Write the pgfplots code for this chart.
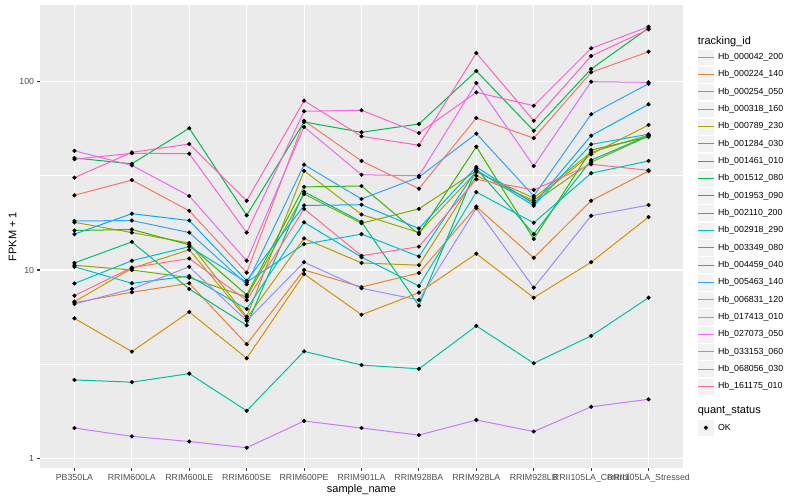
\documentclass[border=0pt]{standalone}
\usepackage{fontspec}
\setmainfont{Liberation Sans}
\usepackage{pgfplots}
\usepackage{pgfplotstable}
\pgfplotsset{compat=1.18}

\definecolor{c1}{HTML}{F8766D}
\definecolor{c2}{HTML}{EA8331}
\definecolor{c3}{HTML}{D89000}
\definecolor{c4}{HTML}{C09B00}
\definecolor{c5}{HTML}{A3A500}
\definecolor{c6}{HTML}{7CAE00}
\definecolor{c7}{HTML}{39B600}
\definecolor{c8}{HTML}{00BB4E}
\definecolor{c9}{HTML}{00BF7D}
\definecolor{c10}{HTML}{00C1A3}
\definecolor{c11}{HTML}{00BFC4}
\definecolor{c12}{HTML}{00BAE0}
\definecolor{c13}{HTML}{00B0F6}
\definecolor{c14}{HTML}{35A2FF}
\definecolor{c15}{HTML}{9590FF}
\definecolor{c16}{HTML}{C77CFF}
\definecolor{c17}{HTML}{E76BF3}
\definecolor{c18}{HTML}{FA62DB}
\definecolor{c19}{HTML}{FF62BC}
\definecolor{c20}{HTML}{FF6C91}
\definecolor{panelbg}{HTML}{EBEBEB}
\definecolor{keybg}{HTML}{F2F2F2}
\definecolor{gray20}{HTML}{333333}
\definecolor{gray30}{HTML}{4D4D4D}

\pgfplotsset{
  keyok/.style={legend image code/.code={%
      \fill[keybg,draw=white,line width=0.5pt] (0pt,-8.41pt) rectangle (17.3pt,8.41pt);
      \fill[black] (8.65pt,0pt) circle (1.9pt);
      \path (20.3pt,0pt);}},
}

% rows: samples 0..10, columns: tracking ids in legend order
\pgfplotstableread{
x s1 s2 s3 s4 s5 s6 s7 s8 s9 s10 s11 s12 s13 s14 s15 s16 s17 s18 s19 s20
0 24.9 6.71 5.54 6.79 17.9 10.6 16.2 39.3 10.9 2.61 10.4 8.48 15.5 18.2 6.60 1.45 42.9 38.7 30.9 7.31
1 30.0 7.62 3.69 10.2 15.8 10.0 16.4 36.6 14.1 2.54 8.50 11.2 19.9 18.3 7.93 1.31 35.9 41.6 42.1 10.3
2 20.6 8.50 5.99 12.8 13.9 9.10 13.6 56.5 7.93 2.82 9.29 13.3 18.3 15.8 10.4 1.23 24.7 41.4 46.6 11.5
3 9.68 4.04 3.40 5.54 5.65 7.19 7.37 19.5 5.09 1.79 6.21 8.61 8.77 8.40 5.38 1.14 11.2 15.8 23.3 6.91
4 61.9 10.0 9.52 14.7 33.6 25.3 27.6 61.0 26.0 3.70 17.9 13.7 22.0 36.2 11.0 1.58 57.4 69.5 79.1 21.1
5 37.9 8.12 5.79 10.9 19.7 17.7 27.9 53.8 18.0 3.13 11.7 15.5 22.2 23.8 8.00 1.45 32.0 70.4 51.2 11.9
6 27.0 9.64 7.58 10.6 15.8 21.1 15.5 59.5 6.47 2.99 8.23 11.8 16.6 31.1 6.93 1.33 31.6 53.3 45.9 13.3
7 64.0 21.7 12.2 31.6 33.1 33.6 45.1 113.7 34.5 5.05 25.9 33.9 35.2 52.9 21.3 1.60 98.2 87.6 141.6 30.3
8 50.1 11.6 7.13 23.4 24.1 22.8 14.6 54.8 15.5 3.20 17.8 21.9 22.4 24.7 8.06 1.39 35.6 74.4 61.9 26.6
9 111.9 23.3 11.0 41.1 42.1 37.3 43.3 116.5 38.3 4.47 32.6 46.4 51.6 67.0 19.4 1.88 99.8 150.0 136.6 36.4
10 143.9 33.5 19.1 58.8 52.0 51.4 50.8 192.2 51.6 7.13 37.9 52.5 75.7 97.3 22.1 2.06 99.0 195.3 189.2 33.8
}\fpkm

\begin{document}
\begin{tikzpicture}
\path[use as bounding box] (-40pt,-32pt) rectangle (760pt,468pt);
\begin{axis}[
  scale only axis, width=643pt, height=463pt,
  xmin=-0.6, xmax=10.6,
  ymode=log, ymin=0.890, ymax=254.7,
  axis background/.style={fill=panelbg},
  axis line style={draw=none},
  xtick={0,...,10},
  xticklabels={PB350LA,RRIM600LA,RRIM600LE,RRIM600SE,RRIM600PE,RRIM901LA,RRIM928BA,RRIM928LA,RRIM928LB,RRII105LA\_Control,RRII105LA\_Stressed},
  ytick={1,10,100}, yticklabels={1,10,100},
  minor ytick={3.1623,31.623},
  grid=both,
  major grid style={white, line width=1.07pt},
  minor grid style={white, line width=0.53pt},
  tick align=outside, tick pos=left,
  major tick length=2.75pt, minor tick length=0pt,
  tick style={gray20, line width=1.07pt},
  /pgf/number format/assume math mode=true,
  ticklabel style={font=\fontsize{8.8}{10}\selectfont, text=gray30, inner sep=0pt},
  xticklabel style={anchor=base, yshift=-9.9pt},
  yticklabel style={anchor=east, xshift=-3pt},
  xlabel={sample\_name}, ylabel={FPKM + 1},
  label style={font=\fontsize{11}{13}\selectfont},
  xlabel style={at={(axis description cs:0.5,-0.052)}, anchor=base},
  ylabel style={at={(axis description cs:-0.0425,0.5)}, anchor=center},
  legend style={draw=none, fill=none, at={(1.0218,0.9339)}, anchor=north west,
    inner sep=0pt, outer sep=0pt, row sep=0pt,
    nodes={inner sep=0pt, text depth={}},
    font=\fontsize{8.8}{10}\selectfont},
  legend cell align=left,
  legend entries={
    {\hspace*{-20.3pt}\fontsize{11}{13}\selectfont\rule[-4.6pt]{0pt}{13pt}tracking\_id},
    Hb\_000042\_200,Hb\_000224\_140,Hb\_000254\_050,Hb\_000318\_160,Hb\_000789\_230,
    Hb\_001284\_030,Hb\_001461\_010,Hb\_001512\_080,Hb\_001953\_090,Hb\_002110\_200,
    Hb\_002918\_290,Hb\_003349\_080,Hb\_004459\_040,Hb\_005463\_140,Hb\_006831\_120,
    Hb\_017413\_010,Hb\_027073\_050,Hb\_033153\_060,Hb\_068056\_030,Hb\_161175\_010,
    {\hspace*{-20.3pt}\fontsize{11}{13}\selectfont\rule[-5.3pt]{0pt}{24pt}quant\_status},
    OK},
]
\addlegendimage{empty legend}
\pgfplotsinvokeforeach{1,...,20}{
  \addplot[c#1, line width=1pt,
    legend image code/.code={%
      \fill[keybg,draw=white,line width=0.5pt] (0pt,-8.41pt) rectangle (17.3pt,8.41pt);
      \draw[c#1, line width=1pt] (0.8pt,0pt) -- (16.5pt,0pt);
      \path (20.3pt,0pt);}]
    table[x=x, y=s#1] {\fpkm};
}
\pgfplotsinvokeforeach{1,...,20}{
  \addplot[only marks, mark=*, mark size=1.9pt, black, forget plot] table[x=x, y=s#1] {\fpkm};
}
\addlegendimage{empty legend}
\addlegendimage{keyok}
\end{axis}
\end{tikzpicture}
\end{document}
